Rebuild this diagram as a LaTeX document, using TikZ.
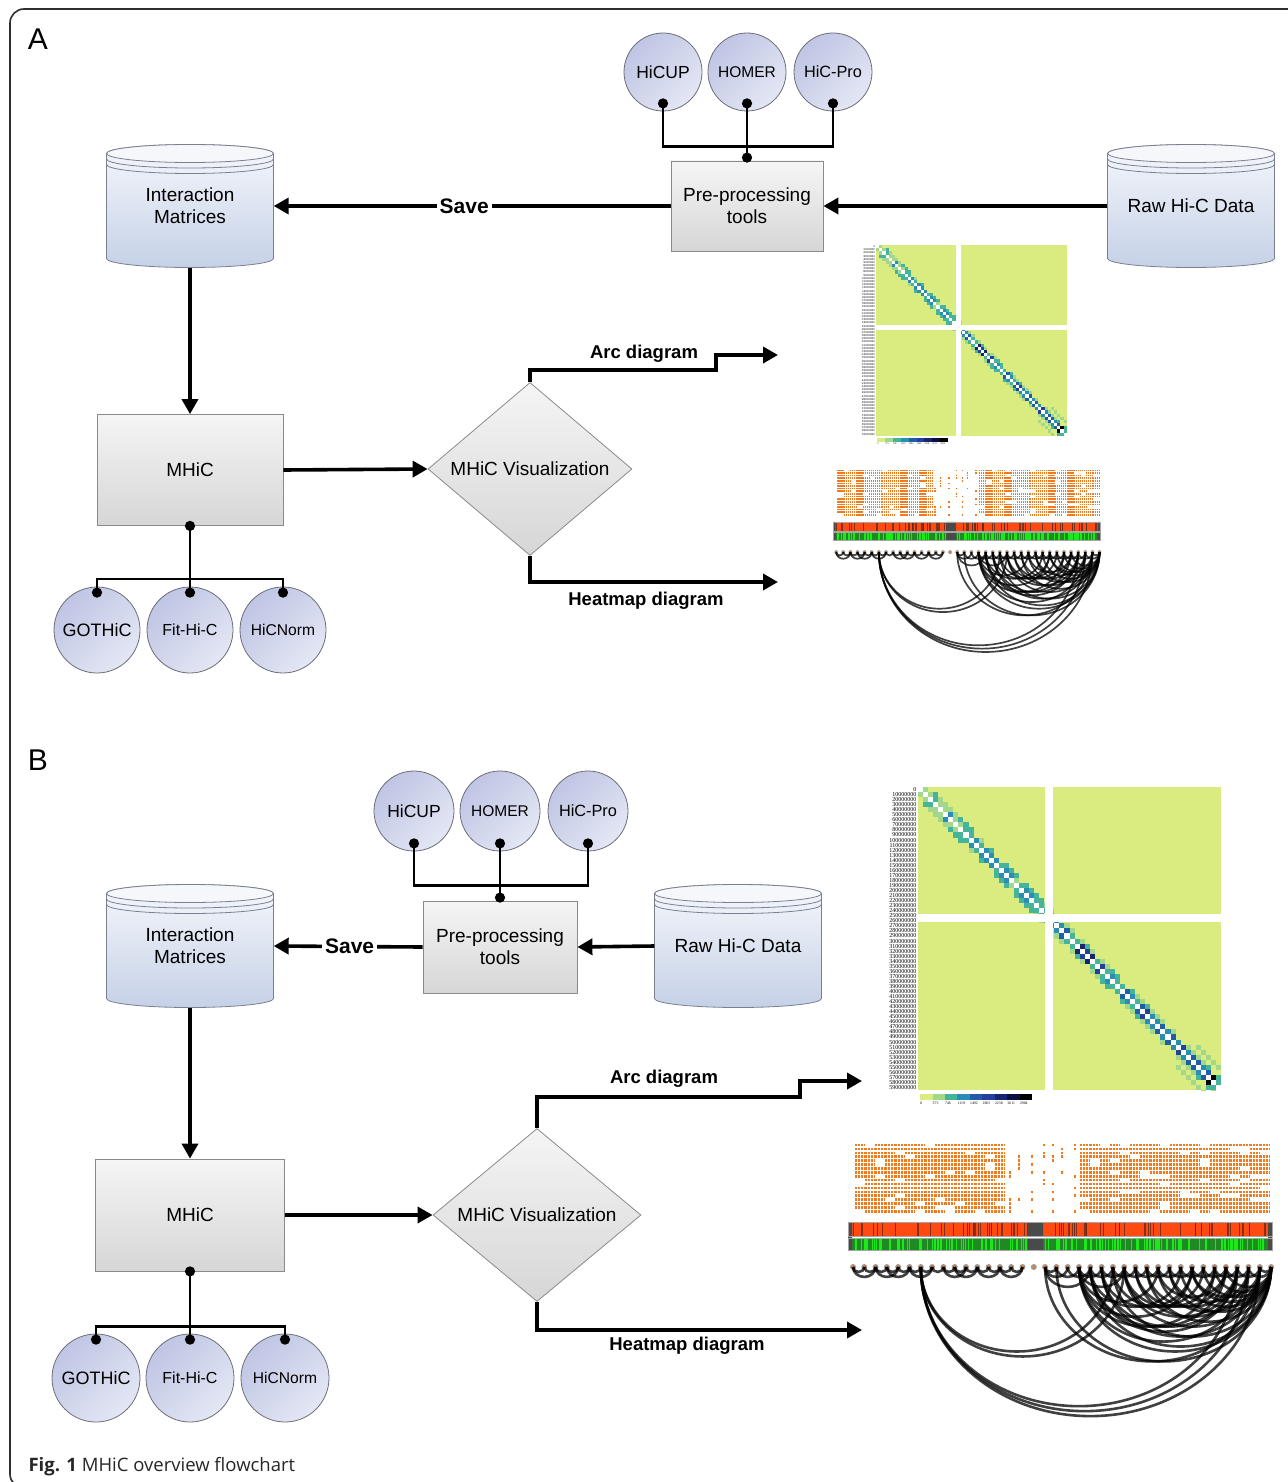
\documentclass[tikz,border=0pt]{standalone}
\usepackage{fontspec}
\setmainfont{Liberation Sans}
\newfontfamily\capfont{Open Sans}
\newfontfamily\numfont{Liberation Serif}
\usetikzlibrary{shapes.geometric,arrows.meta,positioning}

\definecolor{tooltop}{HTML}{BFC5E4}
\definecolor{toolbot}{HTML}{E4E7F4}
\definecolor{toolrim}{HTML}{6E6E78}
\definecolor{boxtop}{HTML}{F5F5F5}
\definecolor{boxbot}{HTML}{D6D6D6}
\definecolor{boxrim}{HTML}{8A8A8A}
\definecolor{dbtop}{HTML}{F5F7FB}
\definecolor{dbbot}{HTML}{C5D1E7}
\definecolor{dbrim}{HTML}{7A8090}
\definecolor{hm0}{HTML}{DAEB80}
\definecolor{hm1}{HTML}{A2D78C}
\definecolor{hm2}{HTML}{45B49B}
\definecolor{hm3}{HTML}{2A8DB3}
\definecolor{hm4}{HTML}{1F5EA6}
\definecolor{hm5}{HTML}{23409A}
\definecolor{hm6}{HTML}{17246E}
\definecolor{hm7}{HTML}{0B0E40}
\definecolor{hm8}{HTML}{000000}
\definecolor{dotorange}{HTML}{F27A1E}
\definecolor{barred}{HTML}{FF4A12}
\definecolor{bardark}{HTML}{6A2818}
\definecolor{bargreen}{HTML}{1F8A22}
\definecolor{barlime}{HTML}{1AEA1A}
\definecolor{bargray}{HTML}{4A4A4A}
\definecolor{framecol}{HTML}{2E2E2E}

\tikzset{
  toolnode/.style={circle, draw=toolrim, line width=0.8pt, top color=tooltop, bottom color=toolbot,
    shading angle=45, inner sep=0pt, minimum size=78pt, font=\fontsize{17.5}{20}\selectfont},
  procbox/.style={rectangle, draw=boxrim, line width=0.8pt, top color=boxtop, bottom color=boxbot,
    align=center, inner sep=0pt, font=\fontsize{19}{22}\selectfont},
  vizdiamond/.style={diamond, draw=boxrim, line width=0.8pt, top color=boxtop, bottom color=boxbot,
    inner sep=0pt, font=\fontsize{19}{22}\selectfont},
  dblabel/.style={rectangle, align=center, inner sep=0pt, minimum width=167pt, minimum height=123pt,
    font=\fontsize{19}{22}\selectfont},
  flow/.style={line width=3.6pt, -{Triangle[length=15pt,width=16pt]}},
  tree/.style={line width=2.8pt, {Circle[length=10pt]}-{Circle[length=10pt]}},
  treeend/.style={line width=2.8pt, -{Circle[length=10pt]}},
  flowlbl/.style={font=\bfseries\fontsize{18.5}{20}\selectfont},
  savelbl/.style={fill=white, inner sep=3pt, font=\bfseries\fontsize{21}{24}\selectfont},
  panellbl/.style={font=\fontsize{30}{32}\selectfont},
  hmrowA/.style={font=\numfont\fontsize{2.9}{3}\selectfont, inner sep=0pt, anchor=east},
  hmrowB/.style={font=\numfont\fontsize{6}{6}\selectfont, inner sep=0pt, anchor=east},
  hmbarA/.style={font=\numfont\fontsize{2.3}{3}\selectfont, inner sep=0pt, anchor=north west},
  hmbarB/.style={font=\numfont\fontsize{3.8}{4}\selectfont, inner sep=0pt, anchor=north west},
  odotA/.style={dotorange, line width=1.6pt, dash pattern=on 1.2pt off 0.8pt},
  odotB/.style={dotorange, line width=2.6pt, dash pattern=on 2pt off 1.1pt},
  arclnA/.style={black, opacity=0.75, line width=1.7pt},
  arclnB/.style={black, opacity=0.75, line width=2.6pt},
}

\newcommand{\dbshape}[1]{%
  \begin{scope}[shift={#1}]
    \path[draw=dbrim, line width=0.8pt, top color=dbtop, bottom color=dbbot]
      (-83.5,52.5) -- (-83.5,-52.5) arc[start angle=180, end angle=360, x radius=83.5, y radius=9]
      -- (83.5,52.5) arc[start angle=0, end angle=180, x radius=83.5, y radius=9] -- cycle;
    \draw[dbrim, line width=0.8pt, fill=dbtop] (0,52.5) ellipse[x radius=83.5, y radius=9];
    \draw[dbrim, line width=0.8pt] (-83.5,47) arc[start angle=180, end angle=360, x radius=83.5, y radius=9];
    \draw[dbrim, line width=0.8pt] (-83.5,41.5) arc[start angle=180, end angle=360, x radius=83.5, y radius=9];
  \end{scope}}

\newcommand{\hmplot}[3]{%
  \begin{scope}[shift={#1}, scale=#2]
    \fill[hm0] (0,0) rectangle (60,-60);
    \begin{scope}
      \clip (0,0) rectangle (60,-60);
      \pgfmathsetseed{42}
      \foreach \i in {0,...,58} {
        \ifnum\i<25 \pgfmathrandominteger{\k}{1}{3}\else\pgfmathrandominteger{\k}{2}{5}\fi
        \ifnum\i=31 \def\k{6}\fi
        \ifnum\i=33 \def\k{6}\fi
        \ifnum\i=56 \def\k{4}\fi
        \ifnum\i=57 \def\k{8}\fi
        \pgfmathrandominteger{\m}{0}{3}
        \ifnum\m>0
          \pgfmathrandominteger{\q}{1}{2}
          \fill[fill=hm\q] (\i+2,-\i) rectangle +(1,-1);
          \fill[fill=hm\q] (\i,-\i-2) rectangle +(1,-1);
        \fi
        \ifnum\i>50
          \fill[hm1] (\i+4,-\i) rectangle +(1,-1);
          \fill[hm1] (\i,-\i-4) rectangle +(1,-1);
        \fi
        \fill[fill=hm\k] (\i+1,-\i) rectangle +(1,-1);
        \fill[fill=hm\k] (\i,-\i-1) rectangle +(1,-1);
      }
      \foreach \i in {0,...,59} \fill[white] (\i,-\i) rectangle +(1,-1);
      \fill[white] (25.2,0) rectangle (26.8,-60);
      \fill[white] (0,-25.1) rectangle (60,-26.8);
    \end{scope}
    \foreach \i in {0,...,59} {
      \ifnum\i=0 \def\lab{0}\else\edef\lab{\i0000000}\fi
      \node[hmrow#3] (row#3\i) at (-0.3,-\i-0.5) {\lab};
    }
    \foreach \c [count=\n from 0] in {0,373,746,1119,1492,1865,2238,2611,2984} {
      \fill[fill=hm\n] (0.4+\n*2.47,-60.8) rectangle +(2.47,-1.2);
      \node[hmbar#3] (bar#3\n) at (0.4+\n*2.47,-62.3) {\c};
    }
  \end{scope}}

\newcommand{\arcplot}[4]{%
  \begin{scope}[shift={#1}, xscale=#2, yscale=#3]
    \pgfmathsetseed{5}
    \foreach \r in {0,...,17} {
      \foreach \bx in {7,17,...,147} {
        \pgfmathrandominteger{\p}{0}{7}
        \ifnum\p>0 \draw[odot#4] (\bx,-5-\r*3.9) -- (\bx+10,-5-\r*3.9);\fi
      }
      \foreach \bx in {232,242,...,414} {
        \pgfmathrandominteger{\p}{0}{7}
        \ifnum\p>0 \draw[odot#4] (\bx,-5-\r*3.9) -- (\bx+10,-5-\r*3.9);\fi
      }
      \foreach \bx in {161,170,183,195,204,213,226} {
        \pgfmathrandominteger{\p}{0}{2}
        \ifnum\p=0 \draw[odot#4] (\bx,-5-\r*3.9) -- (\bx+2.5,-5-\r*3.9);\fi
      }
    }
    \fill[barred] (0,-82) rectangle (424,-96);
    \foreach \s in {1,...,80} {
      \pgfmathrandominteger{\x}{4}{418}
      \fill[bardark, opacity=0.8] (\x,-82) rectangle +(1.3,-14);
    }
    \fill[bargreen] (0,-98) rectangle (424,-110);
    \foreach \s in {1,...,170} {
      \pgfmathrandominteger{\x}{4}{418}
      \fill[barlime] (\x,-98) rectangle +(1.4,-12);
    }
    \fill[bargray] (180,-82) rectangle (195,-96) (180,-98) rectangle (195,-110);
    \fill[bargray] (0,-82) rectangle (4,-110) (420,-82) rectangle (424,-110);
    \draw[gray!70, line width=0.6pt] (0,-82) rectangle (424,-96) (0,-98) rectangle (424,-110);
    \foreach \d in {0,...,37} {
      \fill[gray!80] ({5+11.3*\d},-127) circle[radius=3];
      \fill[dotorange] ({5+11.3*\d},-127) circle[radius=1.7];
    }
    \foreach \a/\b in {0/1,1/2,0/2,2/3,3/4,2/4,4/5,5/6,6/7,5/7,7/8,8/9,9/10,8/10,10/11,11/12,12/13,11/13,
        13/14,14/15,13/15,3/5,9/11,
        6/35,6/36,6/34,6/23,6/24,17/36,18/37,
        17/18,17/19,18/20,19/21,17/21,20/22,21/23,22/24,20/24,23/25,24/26,25/27,26/28,27/29,28/30,
        29/31,30/32,31/33,32/34,33/35,34/36,35/37,36/37,20/30,20/32,21/34,21/33,22/36,22/34,23/37,
        24/36,24/34,25/35,26/37,27/36,28/37,29/37,30/37,30/36,31/37,26/34,27/33,28/35,23/31,22/30,
        25/33,20/27,21/29,24/32,32/37,33/37,20/35,21/37,20/37}
      \draw[arcln#4] ({5+11.3*\a},-127) arc[start angle=180, end angle=360,
        x radius={5.65*(\b-\a)}, y radius={4.97*(\b-\a)}];
  \end{scope}}

\begin{document}
\begin{tikzpicture}[x=1pt, y=1pt]
\useasboundingbox (0,0) rectangle (1287,-1482);
\draw[framecol, line width=1.6pt, rounded corners=14pt] (1300,-9) -- (10,-9) -- (10,-1488) -- (1300,-1488);

\node[panellbl] (labA) at (38,-39) {A};
\node[toolnode] (hicupA) at (663,-72) {HiCUP};
\node[toolnode, font=\fontsize{15.5}{18}\selectfont] (homerA) at (747,-72) {HOMER};
\node[toolnode, font=\fontsize{16.3}{18}\selectfont] (hicproA) at (833,-72) {HiC-Pro};
\node[procbox, minimum width=152pt, minimum height=90pt] (preA) at (747,-206) {Pre-processing\\tools};
\dbshape{(1191,-206)}
\node[dblabel] (rawA) at (1191,-206) {Raw Hi-C Data};
\dbshape{(190,-206)}
\node[dblabel] (imA) at (190,-206) {Interaction\\Matrices};
\node[procbox, minimum width=186pt, minimum height=111pt] (mhicA) at (190,-470) {MHiC};
\node[vizdiamond, minimum width=204pt, minimum height=166pt] (visA) at (530,-469) {MHiC Visualization};
\node[toolnode, minimum size=86pt, font=\fontsize{18}{20}\selectfont] (gothicA) at (97,-630) {GOTHiC};
\node[toolnode, minimum size=86pt, font=\fontsize{16}{18}\selectfont] (fithicA) at (190,-630) {Fit-Hi-C};
\node[toolnode, minimum size=86pt, font=\fontsize{15.6}{18}\selectfont] (hicnormA) at (283,-630) {HiCNorm};

\draw[tree] ([yshift=-2pt]preA.north) -- ([yshift=13pt]homerA.south);
\draw[treeend] ([yshift=14pt]preA.north) -| ([yshift=13pt]hicupA.south);
\draw[treeend] ([yshift=14pt]preA.north) -| ([yshift=13pt]hicproA.south);
\draw[flow] (rawA.west) -- (preA.east);
\draw[flow] (preA.west) -- node[savelbl, pos=0.52] (saveA) {Save} (imA.east);
\draw[flow] (imA.south) -- (mhicA.north);
\draw[flow] (mhicA.east) -- (visA.west);
\coordinate (arcendA) at (778,-355);
\coordinate (hmendA) at (778,-582);
\draw[flow] (visA.north) |- (716,-370) |- (arcendA);
\draw[flow] (visA.south) |- (hmendA);
\node[flowlbl] (arclblA) at (644,-354) {Arc diagram};
\node[flowlbl] (hmlblA) at (646,-601) {Heatmap diagram};
\draw[tree] ([yshift=5pt]mhicA.south) -- ([yshift=-11pt]fithicA.north);
\draw[treeend] ([yshift=-53pt]mhicA.south) -| ([yshift=-11pt]gothicA.north);
\draw[treeend] ([yshift=-53pt]mhicA.south) -| ([yshift=-11pt]hicnormA.north);

\hmplot{(876,-245)}{3.18}{A}
\arcplot{(833,-467)}{0.63}{0.67}{A}

\node[panellbl] (labB) at (38,-760) {B};
\node[toolnode, minimum size=80pt] (hicupB) at (414,-811) {HiCUP};
\node[toolnode, minimum size=80pt, font=\fontsize{15.5}{18}\selectfont] (homerB) at (500,-811) {HOMER};
\node[toolnode, minimum size=80pt, font=\fontsize{16.3}{18}\selectfont] (hicproB) at (588,-811) {HiC-Pro};
\node[procbox, minimum width=154pt, minimum height=92pt] (preB) at (500,-947) {Pre-processing\\tools};
\dbshape{(738,-946)}
\node[dblabel] (rawB) at (738,-946) {Raw Hi-C Data};
\dbshape{(190,-946)}
\node[dblabel] (imB) at (190,-946) {Interaction\\Matrices};
\node[procbox, minimum width=189pt, minimum height=112pt] (mhicB) at (190,-1215) {MHiC};
\node[vizdiamond, minimum width=208pt, minimum height=170pt] (visB) at (537,-1215) {MHiC Visualization};
\node[toolnode, minimum size=88pt, font=\fontsize{18}{20}\selectfont] (gothicB) at (96,-1378) {GOTHiC};
\node[toolnode, minimum size=88pt, font=\fontsize{16}{18}\selectfont] (fithicB) at (190,-1378) {Fit-Hi-C};
\node[toolnode, minimum size=88pt, font=\fontsize{15.6}{18}\selectfont] (hicnormB) at (285,-1378) {HiCNorm};

\draw[tree] ([yshift=-2pt]preB.north) -- ([yshift=13pt]homerB.south);
\draw[treeend] ([yshift=15pt]preB.north) -| ([yshift=13pt]hicupB.south);
\draw[treeend] ([yshift=15pt]preB.north) -| ([yshift=13pt]hicproB.south);
\draw[flow] (rawB.west) -- (preB.east);
\draw[flow] (preB.west) -- node[savelbl, pos=0.49] (saveB) {Save} (imB.east);
\draw[flow] (imB.south) -- (mhicB.north);
\draw[flow] (mhicB.east) -- (visB.west);
\coordinate (arcendB) at (862,-1081);
\coordinate (hmendB) at (862,-1330);
\draw[flow] (visB.north) |- (800,-1097) |- (arcendB);
\draw[flow] (visB.south) |- (hmendB);
\node[flowlbl] (arclblB) at (664,-1079) {Arc diagram};
\node[flowlbl] (hmlblB) at (687,-1346) {Heatmap diagram};
\draw[tree] ([yshift=5pt]mhicB.south) -- ([yshift=-11pt]fithicB.north);
\draw[treeend] ([yshift=-55pt]mhicB.south) -| ([yshift=-11pt]gothicB.north);
\draw[treeend] ([yshift=-55pt]mhicB.south) -| ([yshift=-11pt]hicnormB.north);

\hmplot{(918,-787)}{5.05}{B}
\arcplot{(848,-1140)}{1}{1}{B}

\node[anchor=base west, font=\capfont\fontsize{18.5}{21}\selectfont, text=black!85] (caption) at (25,-1471)
  {\textbf{Fig. 1} MHiC overview flowchart};
\end{tikzpicture}
\end{document}
